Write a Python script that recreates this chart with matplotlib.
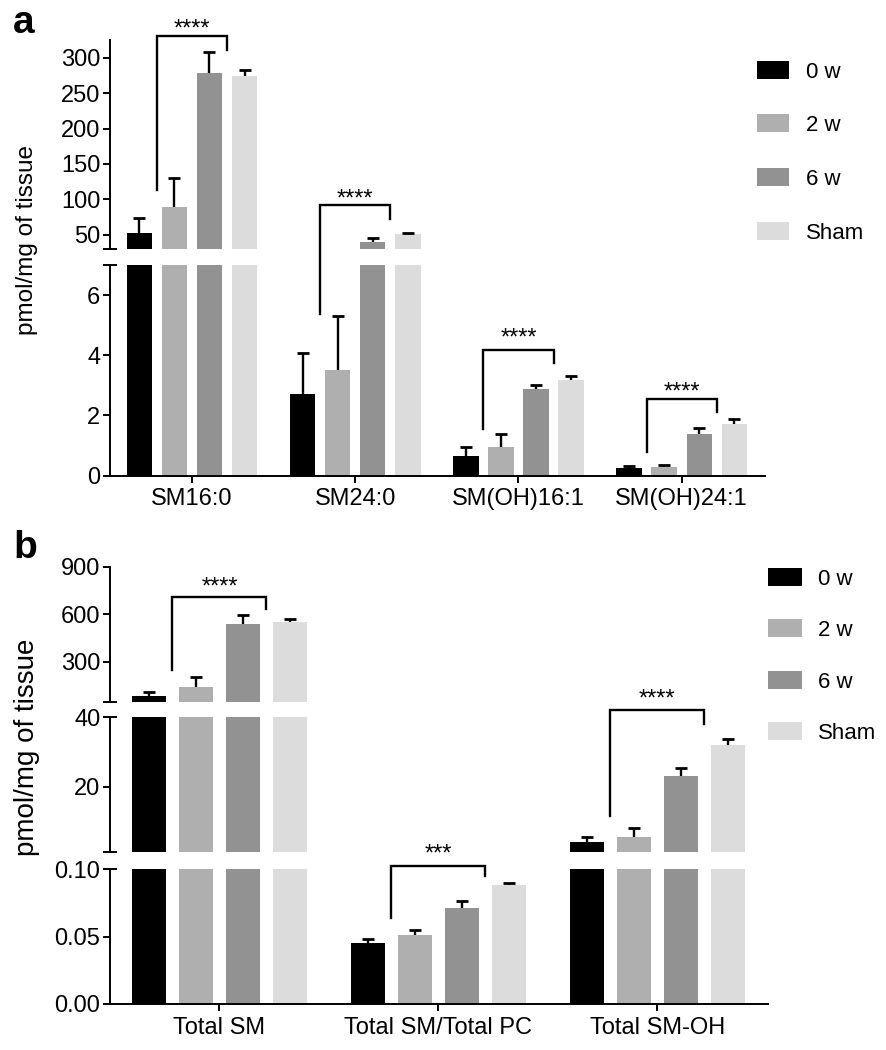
import matplotlib
matplotlib.use('Agg')
import matplotlib.pyplot as plt
import numpy as np
from matplotlib.lines import Line2D
from matplotlib.patches import Rectangle

plt.rcParams['font.family'] = ['Liberation Sans', 'DejaVu Sans']

W, H = 886, 1050
DPI = 100

# ---------------- data ----------------
series = ['0 w', '2 w', '6 w', 'Sham']
colors = ['#000000', '#afafaf', '#929292', '#dcdcdc']

# panel a
a_cats = ['SM16:0', 'SM24:0', 'SM(OH)16:1', 'SM(OH)24:1']
a_0w = [52, 2.72, 0.66, 0.24]
a_2w = [89.5, 3.52, 0.97, 0.28]
a_6w = [279, 40.5, 2.89, 1.38]
a_sham = [274.6, 51, 3.19, 1.73]
a_err_0w = [22, 1.36, 0.31, 0.08]
a_err_2w = [41, 1.78, 0.41, 0.08]
a_err_6w = [29.5, 5.5, 0.11, 0.19]
a_err_sham = [7.4, 2.0, 0.11, 0.15]
a_stars = ['****', '****', '****', '****']

# panel b
b_cats = ['Total SM', 'Total SM/Total PC', 'Total SM-OH']
b_0w = [85, 0.045, 3.95]
b_2w = [142, 0.0511, 5.57]
b_6w = [538, 0.0709, 23.1]
b_sham = [549, 0.0881, 32.1]
b_err_0w = [25, 0.0033, 1.6]
b_err_2w = [59.5, 0.0037, 2.4]
b_err_6w = [57, 0.0054, 2.2]
b_err_sham = [19, 0.0018, 1.7]
b_stars = ['****', '***', '****']

# ---------------- layout helpers ----------------
fig = plt.figure(figsize=(W / DPI, H / DPI), dpi=DPI)


def add_ax(x0, x1, ytop, ybot):
    return fig.add_axes([x0 / W, 1 - ybot / H, (x1 - x0) / W, (ybot - ytop) / H])


PITCH = 0.2146
BW = 0.156
LW = 1.4
TFS = 17


def draw_segment(ax, vals, errs, ylim, yticks, fmt, bottom=False, xlim=None,
                 cats=None, cap_top=False, cap_bottom=False):
    n = len(vals[0])
    x = np.arange(n)
    for i in range(4):
        xi = x + (i - 1.5) * PITCH
        v = np.asarray(vals[i], float)
        e = np.asarray(errs[i], float)
        ax.bar(xi, v, width=BW, color=colors[i], linewidth=0, zorder=2)
        ax.vlines(xi, v, v + e, color='black', lw=1.7, zorder=3)
        ax.plot(xi, v + e, linestyle='none', marker='_', color='black',
                markersize=8.5, markeredgewidth=2.0, zorder=3)
    ax.set_ylim(*ylim)
    ax.set_xlim(*xlim)
    ax.set_yticks(yticks)
    ax.set_yticklabels([fmt.format(t) for t in yticks], fontsize=TFS)
    for s in ['top', 'right']:
        ax.spines[s].set_visible(False)
    ax.spines['left'].set_linewidth(LW)
    ax.tick_params(axis='y', length=5, width=LW, pad=2)
    if bottom:
        ax.spines['bottom'].set_linewidth(LW)
        ax.set_xticks(x)
        ax.set_xticklabels(cats, fontsize=TFS)
        ax.tick_params(axis='x', length=5, width=LW, pad=4)
    else:
        ax.spines['bottom'].set_visible(False)
        ax.set_xticks([])
    axw = ax.get_position().width * W
    dx = 7.0 / axw
    for flag, yy in [(cap_top, 1), (cap_bottom, 0)]:
        if flag:
            ax.plot([-dx, dx], [yy, yy], color='black', lw=LW,
                    transform=ax.transAxes, clip_on=False, solid_capstyle='butt')
    ax.set_facecolor('none')


def to_fig(ax, x, y):
    disp = ax.transData.transform((x, y))
    return fig.transFigure.inverted().transform(disp)


def bracket(ax_l, yl, ax_t, yt, ax_r, yr, g, ax_s, ys, label):
    xl, xr = g - PITCH, g + PITCH
    p1 = to_fig(ax_l, xl, yl)
    p2 = to_fig(ax_t, xl, yt)
    p4 = to_fig(ax_r, xr, yr)
    p3 = to_fig(ax_t, xr, yt)
    xs = [p1[0], p2[0], p3[0], p4[0]]
    ys_ = [p1[1], p2[1], p2[1], p4[1]]
    fig.add_artist(Line2D(xs, ys_, color='black', lw=1.7,
                          transform=fig.transFigure, solid_joinstyle='miter'))
    sc = ax_s.transData.transform((g, ys))
    fs = 17
    base = fig.transFigure.inverted().transform((sc[0], sc[1] - 0.58 * fs * DPI / 72))
    fig.text(base[0], base[1], label, ha='center', va='baseline', fontsize=fs)


def legend(x0, w, ycs, xt):
    for c, yc, lab in zip(colors, ycs, series):
        fig.add_artist(Rectangle((x0 / W, 1 - (yc + 9) / H), w / W, 18 / H,
                                 facecolor=c, edgecolor='none',
                                 transform=fig.transFigure))
        fs = 16
        fig.text(xt / W, 1 - (yc + 0.358 * fs * DPI / 72) / H, lab,
                 fontsize=fs, ha='left', va='baseline')


# ---------------- panel a ----------------
a_vals = [a_0w, a_2w, a_6w, a_sham]
a_errs = [a_err_0w, a_err_2w, a_err_6w, a_err_sham]
a_xlim = (-0.502, 3.51)
ax_a_up = add_ax(110, 765, 40, 249)
ax_a_lo = add_ax(110, 765, 265, 475.7)
draw_segment(ax_a_up, a_vals, a_errs, (30, 325), [50, 100, 150, 200, 250, 300],
             '{:g}', xlim=a_xlim, cap_bottom=True)
draw_segment(ax_a_lo, a_vals, a_errs, (0, 7), [0, 2, 4, 6], '{:g}', bottom=True,
             xlim=a_xlim, cats=a_cats, cap_top=True)

bracket(ax_a_up, 113.6, ax_a_up, 330, ax_a_up, 311, 0, ax_a_up, 351, a_stars[0])
bracket(ax_a_lo, 5.36, ax_a_up, 92.4, ax_a_up, 72.6, 1, ax_a_up, 110.7, a_stars[1])
bracket(ax_a_lo, 1.55, ax_a_lo, 4.16, ax_a_lo, 3.75, 2, ax_a_lo, 4.8, a_stars[2])
bracket(ax_a_lo, 0.8, ax_a_lo, 2.56, ax_a_lo, 2.13, 3, ax_a_lo, 3.02, a_stars[3])

legend(756.7, 32.6, [70, 123.3, 176.7, 230.7], 806)

fig.text(27 / W, 1 - 240 / H, 'pmol/mg of tissue', rotation=90, ha='center',
         va='center', fontsize=17.5)
fig.text(13 / W, 1 - 33 / H, 'a', fontsize=28, fontweight='bold',
         ha='left', va='baseline')

# ---------------- panel b ----------------
b_vals = [b_0w, b_2w, b_6w, b_sham]
b_errs = [b_err_0w, b_err_2w, b_err_6w, b_err_sham]
b_xlim = (-0.5, 2.504)
ax_b_up = add_ax(110, 767.7, 566.7, 701.7)
ax_b_mid = add_ax(110, 767.7, 717.3, 852.3)
ax_b_lo = add_ax(110, 767.7, 869, 1004)
draw_segment(ax_b_up, b_vals, b_errs, (47, 900), [300, 600, 900], '{:g}',
             xlim=b_xlim, cap_bottom=True)
draw_segment(ax_b_mid, b_vals, b_errs, (1.1, 40), [20, 40], '{:g}',
             xlim=b_xlim, cap_top=True, cap_bottom=True)
draw_segment(ax_b_lo, b_vals, b_errs, (0, 0.1), [0.0, 0.05, 0.10], '{:.2f}',
             bottom=True, xlim=b_xlim, cats=b_cats, cap_top=True)

bracket(ax_b_up, 247.6, ax_b_up, 710.6, ax_b_up, 631, 0, ax_b_up, 816, b_stars[0])
bracket(ax_b_lo, 0.0635, ax_b_lo, 0.1024, ax_b_lo, 0.0948, 1, ax_b_lo, 0.1165, b_stars[1])
bracket(ax_b_mid, 11.56, ax_b_mid, 42.1, ax_b_mid, 38.07, 2, ax_b_mid, 47.4, b_stars[2])

legend(768, 34, [576.7, 628, 680, 730.7], 818)

fig.text(27 / W, 1 - 747 / H, 'pmol/mg of tissue', rotation=90, ha='center',
         va='center', fontsize=20)
fig.text(13 / W, 1 - 558 / H, 'b', fontsize=28, fontweight='bold',
         ha='left', va='baseline')

fig.savefig('out.png', dpi=DPI)
